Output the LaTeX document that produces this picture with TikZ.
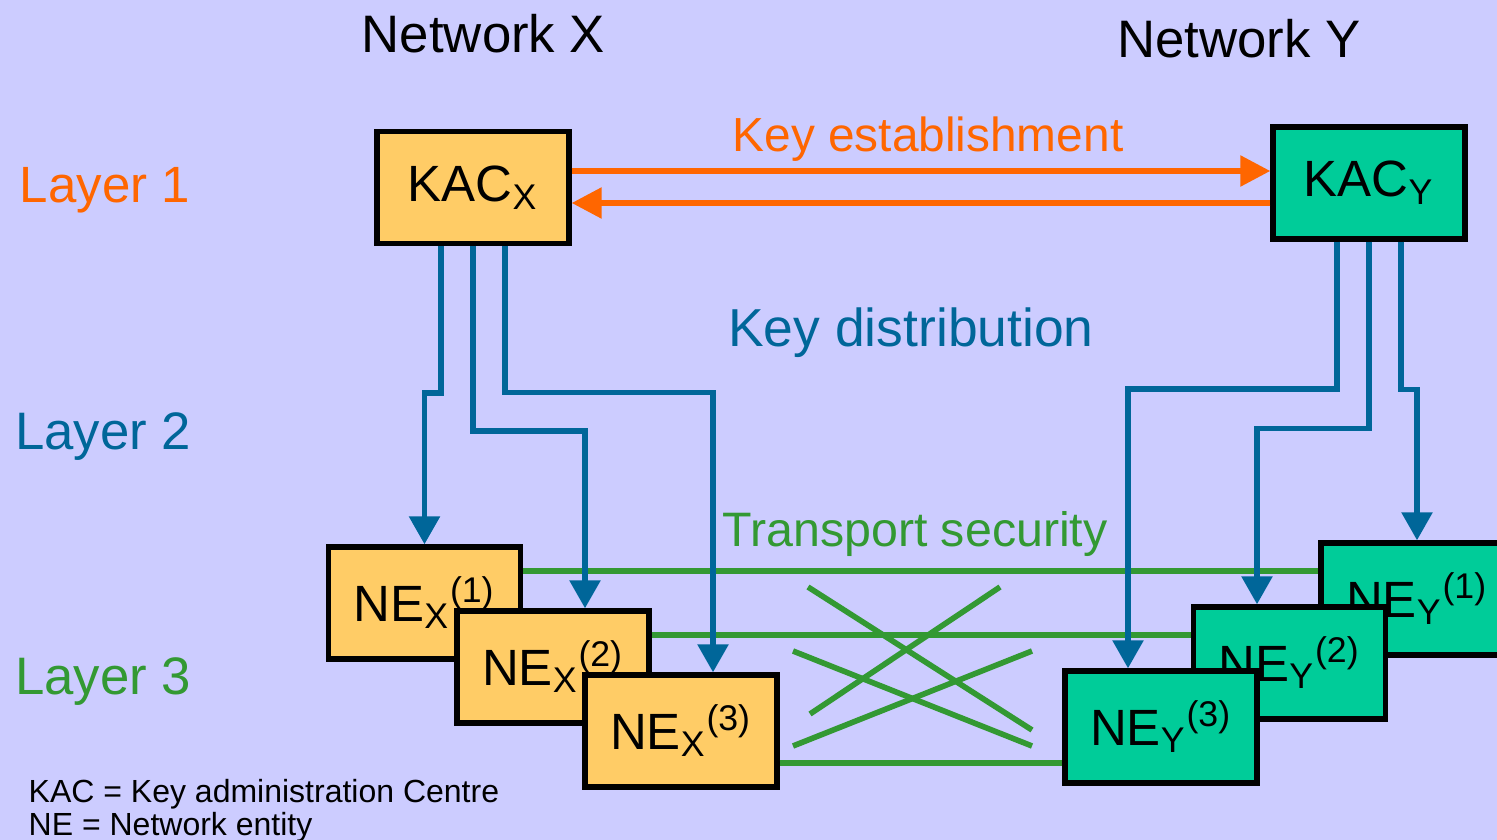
\documentclass[tikz,border=0pt]{standalone}
\usepackage{fontspec}
\setmainfont{Liberation Sans}
\usepackage{xcolor}
\usetikzlibrary{arrows.meta,calc,positioning}
\definecolor{bgcol}{HTML}{CCCCFF}
\definecolor{estcol}{HTML}{FF6600}
\definecolor{distcol}{HTML}{006699}
\definecolor{seccol}{HTML}{339933}
\definecolor{xfill}{HTML}{FFCC66}
\definecolor{yfill}{HTML}{00CC99}

\begin{document}
\begin{tikzpicture}[x=0.01cm, y=-0.01cm]
		\tikzstyle{every node}=[font=\fontsize{14.5}{17}\selectfont]
		\tikzstyle{box}=[draw=black, line width=1.5pt, minimum width=1.92cm, minimum height=1.12cm, inner sep=0pt]
		\tikzstyle{keyest}=[line width=1.6pt, estcol, -{Triangle[length=0.3cm, width=0.3cm]}]
		\tikzstyle{keydist}=[line width=1.6pt, distcol, -{Triangle[length=0.28cm, width=0.3cm]}]
		\tikzstyle{secline}=[line width=1.6pt, seccol]
		\fill [bgcol] (0,0) rectangle (1497,840);
		\useasboundingbox (0,0) rectangle (1497,840);
		\clip (0,0) rectangle (1497,840);
		% titles and layers
		\node [anchor=base, font=\fontsize{15}{18}\selectfont] (netx) at (483.5,53) {Network X};
		\node [anchor=base, font=\fontsize{15}{18}\selectfont] (nety) at (1239,58) {Network Y};
		\node [anchor=base, text=estcol] (lay1) at (105,203) {Layer 1};
		\node [anchor=base, text=distcol, font=\fontsize{15}{18}\selectfont] (lay2) at (103,449) {Layer 2};
		\node [anchor=base, text=seccol, font=\fontsize{15}{18}\selectfont] (lay3) at (103,694) {Layer 3};
		\node [anchor=base, text=estcol, font=\fontsize{13.6}{16}\selectfont] (est) at (928,152) {Key establishment};
		\node [anchor=base, text=distcol, font=\fontsize{15.2}{18}\selectfont] (dist) at (911,347) {Key distribution};
		\node [anchor=base, text=seccol, font=\fontsize{13.75}{16}\selectfont] (sec) at (915,547) {Transport security};
		% boxes
		\node [box, fill=xfill] (kacx) at (473,187.5) {KAC\textsubscript{X}};
		\node [box, fill=yfill] (kacy) at (1369,183) {KAC\textsubscript{Y}};
		\node [box, fill=xfill] (nex1) at (424.5,603) {NE\textsubscript{X}\textsuperscript{(1)}};
		\node [box, fill=xfill] (nex2) at (553,667) {NE\textsubscript{X}\textsuperscript{(2)}};
		\node [box, fill=xfill] (nex3) at (681,731) {NE\textsubscript{X}\textsuperscript{(3)}};
		\node [box, fill=yfill] (ney1) at (1417,599) {NE\textsubscript{Y}\textsuperscript{(1)}};
		\node [box, fill=yfill] (ney2) at (1289.5,663) {NE\textsubscript{Y}\textsuperscript{(2)}};
		\node [box, fill=yfill] (ney3) at (1161,727) {NE\textsubscript{Y}\textsuperscript{(3)}};
		% layer 1
		\draw [keyest] (kacx.east |- 0,171) -- (kacy.west |- 0,171);
		\draw [keyest] (kacy.west |- 0,203) -- (kacx.east |- 0,203);
		% layer 3
		\draw [secline] ($(nex1.east)+(0,-32)$) -- ($(ney1.west)+(0,-28)$);
		\draw [secline] ($(nex2.east)+(0,-32)$) -- ($(ney2.west)+(0,-28)$);
		\draw [secline] ($(nex3.east)+(0,32)$) -- ($(ney3.west)+(0,36)$);
		\draw [secline] (808,587) -- (1032,730);
		\draw [secline] (1000,587) -- (810,714);
		\draw [secline] (793,651) -- (1032,746);
		\draw [secline] (1032,651) -- (793,746);
		% layer 2
		\draw [keydist] ($(kacx.south)+(-32,0)$) -- ++(0,147) -| (nex1.north);
		\draw [keydist] (kacx.south) -- ++(0,185) -| ($(nex2.north)+(32,0)$);
		\draw [keydist] ($(kacx.south)+(32,0)$) -- ++(0,146.5) -| ($(nex3.north)+(32,0)$);
		\draw [keydist] ($(kacy.south)+(-32,0)$) -- ++(0,147.5) -| ($(ney3.north)+(-33,0)$);
		\draw [keydist] (kacy.south) -- ++(0,187) -| ($(ney2.north)+(-32.5,0)$);
		\draw [keydist] ($(kacy.south)+(32,0)$) -- ++(0,148) -| (ney1.north);
		% legend
		\node [anchor=base west, inner sep=0pt, font=\fontsize{9.1}{10}\selectfont] (note1) at (28,802) {KAC = Key administration Centre};
		\node [anchor=base west, inner sep=0pt, font=\fontsize{9.1}{10}\selectfont] (note2) at (28,835) {NE = Network entity};
\end{tikzpicture}
\end{document}
